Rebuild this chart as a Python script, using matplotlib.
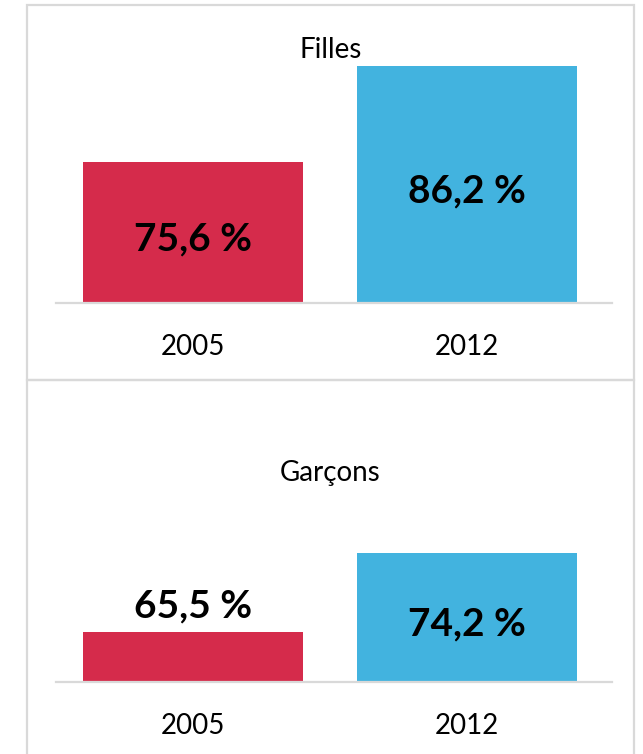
import matplotlib
matplotlib.use("Agg")
import matplotlib.pyplot as plt
from matplotlib.patches import Rectangle

plt.rcParams["font.family"] = ["Lato", "DejaVu Sans"]

years = ["2005", "2012"]
filles = [75.6, 86.2]
garcons = [65.5, 74.2]
panel_titles = ["Filles", "Garçons"]
y_limits = [(60, 90), (60, 80)]
label_modes = [["center", "center"], ["outside", "center"]]

BAR_COLORS = ["#D52B4B", "#42B3DF"]
FRAME = "#D9D9D9"

W, H = 643, 754
fig = plt.figure(figsize=(W / 100, H / 100), dpi=100)


def px(x0, y0, x1, y1):
    # pixel box (top-left origin) -> figure fraction [left, bottom, width, height]
    return [x0 / W, 1 - y1 / H, (x1 - x0) / W, (y1 - y0) / H]


# panel frames
for top, bottom in [(5, 380), (380, 760)]:
    fig.patches.append(Rectangle((27 / W, 1 - bottom / H), (634 - 27) / W, (bottom - top) / H,
                                 transform=fig.transFigure, fill=False,
                                 edgecolor=FRAME, linewidth=1.6))

scale = 9.05  # pixels per percentage point
axes_boxes = []
for (lo, hi), base in zip(y_limits, [303, 682]):
    axes_boxes.append(px(56, base - (hi - lo) * scale, 612, base))

title_y = [50, 473]
for i, values in enumerate([filles, garcons]):
    ax = fig.add_axes(axes_boxes[i])
    ax.patch.set_alpha(0)
    x = range(len(years))
    ax.bar(x, values, width=0.803, color=BAR_COLORS)
    lo, hi = y_limits[i]
    ax.set_ylim(lo, hi)
    ax.set_xlim(-0.5, 1.53)
    for s in ["top", "left", "right"]:
        ax.spines[s].set_visible(False)
    ax.spines["bottom"].set_color(FRAME)
    ax.spines["bottom"].set_linewidth(1.6)
    ax.set_yticks([])
    ax.set_xticks(list(x))
    ax.set_xticklabels(years, fontsize=20)
    ax.tick_params(axis="x", length=0, pad=22)

    for xi, v, mode in zip(x, values, label_modes[i]):
        txt = f"{v:.1f} %".replace(".", ",")
        if mode == "center":
            ax.annotate(txt, (xi, (lo + v) / 2), xytext=(0, -4.5), textcoords="offset points",
                        ha="center", va="center", fontsize=28, fontweight="bold")
        else:
            ax.annotate(txt, (xi, v), xytext=(0, 6), textcoords="offset points",
                        ha="center", va="bottom", fontsize=28, fontweight="bold")

    fig.text(330.5 / W, 1 - title_y[i] / H, panel_titles[i], ha="center", va="center",
             fontsize=20)

fig.savefig("out.png", dpi=100)
